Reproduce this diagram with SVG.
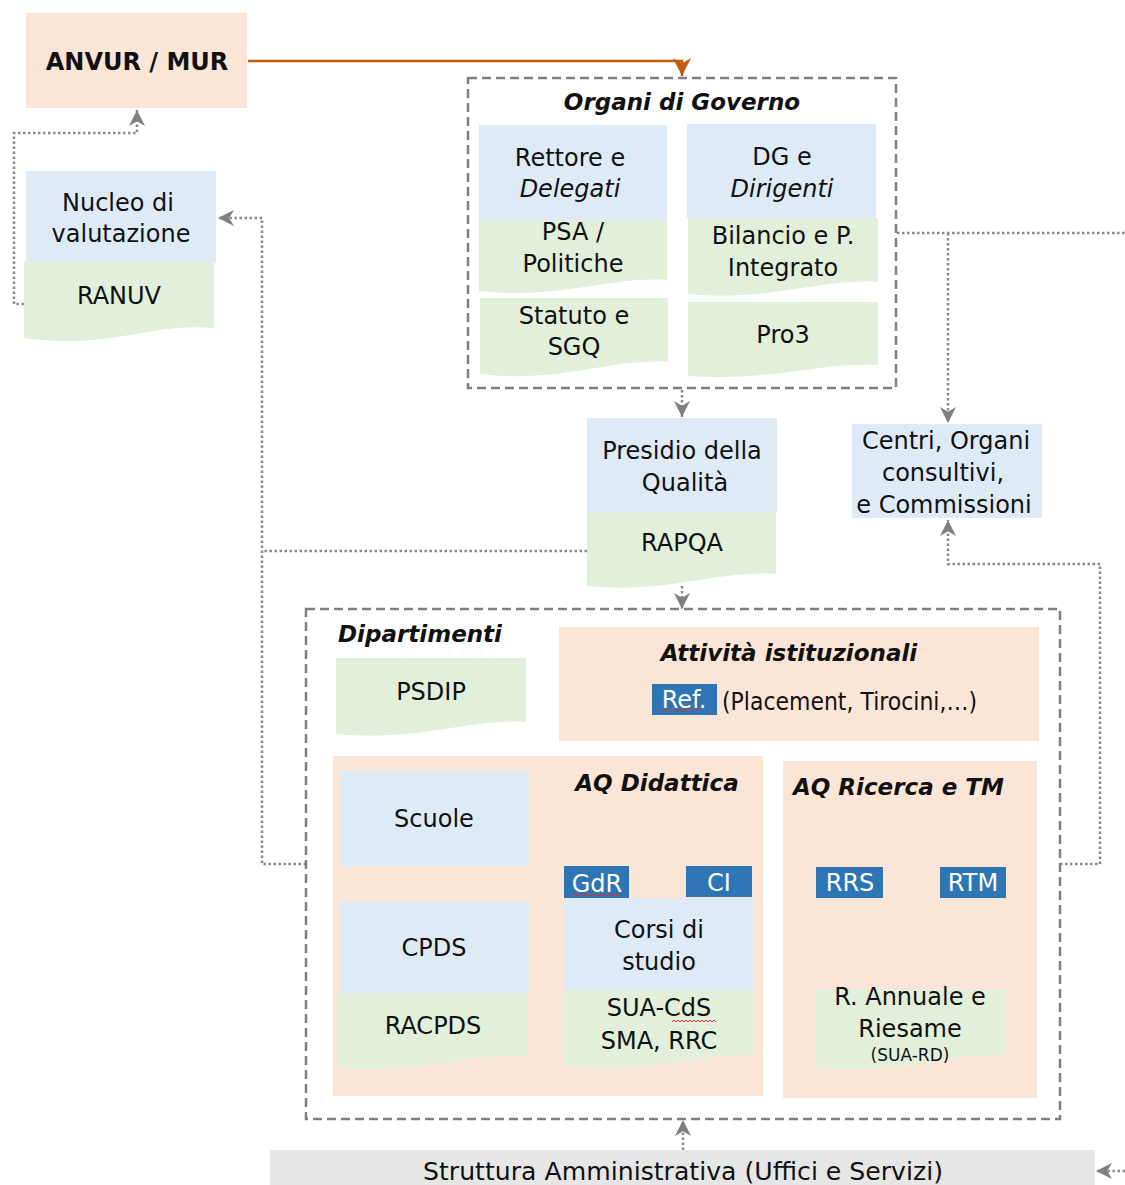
<svg xmlns="http://www.w3.org/2000/svg" width="1125" height="1185" viewBox="0 0 1125 1185">
<defs>
<style>
text{font-family:"DejaVu Sans","Noto Sans",sans-serif;font-size:24px;fill:#111;text-anchor:middle;dominant-baseline:central}
.hd{font-weight:bold;font-style:italic;font-size:23px}
.it{font-style:italic}
.wt{fill:#fff}
.blue{fill:#deebf7}
.green{fill:#e2efda}
.peach{fill:#fbe5d6}
.dark{fill:#2e75b6}
.gray{fill:#e7e6e6}
.dash{fill:none;stroke:#7f7f7f;stroke-width:2.5;stroke-dasharray:9 5}
.dot{fill:none;stroke:#8a8a8a;stroke-width:2.5;stroke-dasharray:2.5 2.5}
.sq{fill:none;stroke:#e03030;stroke-width:1}
</style>
<marker id="ga" markerUnits="userSpaceOnUse" markerWidth="16" markerHeight="16" viewBox="0 0 10 10" refX="10" refY="5" orient="auto">
<path d="M0,0 L10,5 L0,10 L3,5 Z" fill="#7f7f7f"/>
</marker>
<marker id="oa" markerUnits="userSpaceOnUse" markerWidth="18" markerHeight="18" viewBox="0 0 10 10" refX="10" refY="5" orient="auto">
<path d="M0,0 L10,5 L0,10 L3,5 Z" fill="#c55a11"/>
</marker>
</defs>

<g id="connectors">
<path d="M248,61 H682 V76" fill="none" stroke="#c55a11" stroke-width="2.5" marker-end="url(#oa)"/>
<path class="dot" d="M24,304 H14 V133 H137 V110" marker-end="url(#ga)"/>
<path class="dot" d="M587,551 H262"/>
<path class="dot" d="M306,864 H262 V218 H218" marker-end="url(#ga)"/>
<path class="dot" d="M682,390 V417" marker-end="url(#ga)"/>
<path class="dot" d="M682,586 V609" marker-end="url(#ga)"/>
<path class="dot" d="M897,233 H1125"/>
<path class="dot" d="M948,233 V423" marker-end="url(#ga)"/>
<path class="dot" d="M1060,864 H1100 V564 H948 V520" marker-end="url(#ga)"/>
<path class="dot" d="M683,1150 V1120" marker-end="url(#ga)"/>
<path class="dot" d="M1125,1171 H1096" marker-end="url(#ga)"/>
</g>

<g id="anvur">
<rect class="peach" x="26" y="13" width="221" height="95"/>
<text x="137" y="62" style="font-weight:bold;font-size:24px">ANVUR / MUR</text>
</g>

<g id="nucleo">
<rect class="blue" x="26" y="171" width="190" height="92"/>
<text x="118" y="203">Nucleo di</text>
<text x="121" y="234">valutazione</text>
</g>
<g id="ranuv">
<path class="green" d="M24,261 H214 V328 C150,322 110,350 24,338 Z"/>
<text x="119" y="296">RANUV</text>
</g>

<g id="organi">
<rect class="dash" x="468" y="78" width="428" height="310"/>
<text class="hd" x="682" y="102">Organi di Governo</text>
</g>
<g id="rettore">
<rect class="blue" x="479" y="125" width="188" height="95"/>
<text x="570" y="158">Rettore e</text>
<text class="it" x="570" y="189">Delegati</text>
</g>
<g id="psa">
<path class="green" d="M479,220 H667 V280 C610,276 560,300 479,291 Z"/>
<text x="573" y="232">PSA /</text>
<text x="573" y="264">Politiche</text>
</g>
<g id="statuto">
<path class="green" d="M480,298 H668 V362 C610,358 560,384 480,374 Z"/>
<text x="574" y="316">Statuto e</text>
<text x="574" y="347">SGQ</text>
</g>
<g id="dg">
<rect class="blue" x="687" y="124" width="189" height="94"/>
<text x="782" y="157">DG e</text>
<text class="it" x="782" y="189">Dirigenti</text>
</g>
<g id="bilancio">
<path class="green" d="M688,218 H878 V282 C820,278 770,302 688,294 Z"/>
<text x="783" y="236">Bilancio e P.</text>
<text x="783" y="268">Integrato</text>
</g>
<g id="pro3">
<path class="green" d="M688,302 H878 V365 C820,362 770,382 688,376 Z"/>
<text x="783" y="335">Pro3</text>
</g>

<g id="presidio">
<rect class="blue" x="587" y="418" width="190" height="94"/>
<text x="682" y="451">Presidio della</text>
<text x="685" y="483">Qualità</text>
</g>
<g id="rapqa">
<path class="green" d="M587,512 H776 V574 C715,570 670,594 587,586 Z"/>
<text x="682" y="543">RAPQA</text>
</g>

<g id="centri">
<rect class="blue" x="852" y="424" width="190" height="94"/>
<text x="946" y="441">Centri, Organi</text>
<text x="943" y="473">consultivi,</text>
<text x="944" y="505">e Commissioni</text>
</g>

<g id="dipartimenti">
<rect class="dash" x="306" y="609" width="754" height="510"/>
<text class="hd" x="338" y="634" style="text-anchor:start">Dipartimenti</text>
</g>
<g id="psdip">
<path class="green" d="M336,658 H526 V722 C470,718 420,742 336,734 Z"/>
<text x="431" y="692">PSDIP</text>
</g>
<g id="attivita">
<rect class="peach" x="559" y="627" width="480" height="114"/>
<text class="hd" x="789" y="653">Attività istituzionali</text>
<text x="722" y="702" style="text-anchor:start" textLength="255" lengthAdjust="spacingAndGlyphs">(Placement, Tirocini,…)</text>
</g>
<g id="ref">
<rect class="dark" x="652" y="684" width="65" height="31"/>
<text class="wt" x="684" y="700">Ref.</text>
<path class="sq" d="M660,711 l2,-2 l2,2 l2,-2 l2,2 l2,-2 l2,2 l2,-2 l2,2 l2,-2 l2,2 l2,-2 l2,2 l2,-2 l2,2 l2,-2 l2,2 l2,-2 l2,2 l2,-2 l2,2"/>
</g>

<g id="aq-didattica">
<rect class="peach" x="333" y="756" width="430" height="340"/>
<text class="hd" x="657" y="783">AQ Didattica</text>
</g>
<g id="scuole">
<rect class="blue" x="339" y="771" width="190" height="95"/>
<text x="434" y="819">Scuole</text>
</g>
<g id="cpds">
<rect class="blue" x="339" y="901" width="190" height="92"/>
<text x="434" y="948">CPDS</text>
</g>
<g id="racpds">
<path class="green" d="M337,993 H527 V1056 C470,1052 420,1076 337,1068 Z"/>
<text x="433" y="1026">RACPDS</text>
</g>
<g id="gdr">
<rect class="dark" x="564" y="866" width="65" height="32"/>
<text class="wt" x="597" y="884">GdR</text>
<path class="sq" d="M571,896 l2,-2 l2,2 l2,-2 l2,2 l2,-2 l2,2 l2,-2 l2,2 l2,-2 l2,2 l2,-2 l2,2 l2,-2 l2,2 l2,-2 l2,2 l2,-2 l2,2 l2,-2 l2,2 l2,-2 l2,2 l2,-2 l2,2"/>
</g>
<g id="ci">
<rect class="dark" x="686" y="866" width="66" height="31"/>
<text class="wt" x="719" y="883">CI</text>
</g>
<g id="corsi">
<rect class="blue" x="564" y="898" width="189" height="92"/>
<text x="659" y="930">Corsi di</text>
<text x="659" y="962">studio</text>
</g>
<g id="sua-cds">
<path class="green" d="M564,990 H753 V1055 C700,1052 650,1076 564,1066 Z"/>
<text x="659" y="1008">SUA-CdS</text>
<path class="sq" d="M672,1022 l2,-2 l2,2 l2,-2 l2,2 l2,-2 l2,2 l2,-2 l2,2 l2,-2 l2,2 l2,-2 l2,2 l2,-2 l2,2 l2,-2 l2,2 l2,-2 l2,2 l2,-2 l2,2 l2,-2 l2,2"/>
<text x="659" y="1041">SMA, RRC</text>
</g>

<g id="aq-ricerca">
<rect class="peach" x="783" y="761" width="254" height="337"/>
<text class="hd" x="793" y="787" style="text-anchor:start">AQ Ricerca e TM</text>
</g>
<g id="rrs">
<rect class="dark" x="816" y="867" width="67" height="31"/>
<text class="wt" x="850" y="883">RRS</text>
</g>
<g id="rtm">
<rect class="dark" x="940" y="867" width="66" height="31"/>
<text class="wt" x="973" y="883">RTM</text>
</g>
<g id="rannuale">
<path class="green" d="M815,989 H1005 V1055 C950,1052 900,1076 815,1068 Z"/>
<text x="910" y="997">R. Annuale e</text>
<text x="910" y="1029">Riesame</text>
<text x="910" y="1055" style="font-size:17px">(SUA-RD)</text>
</g>

<g id="struttura">
<rect class="gray" x="270" y="1150" width="825" height="40"/>
<text x="683" y="1172" textLength="520" lengthAdjust="spacingAndGlyphs">Struttura  Amministrativa (Uffici e Servizi)</text>
</g>
</svg>
